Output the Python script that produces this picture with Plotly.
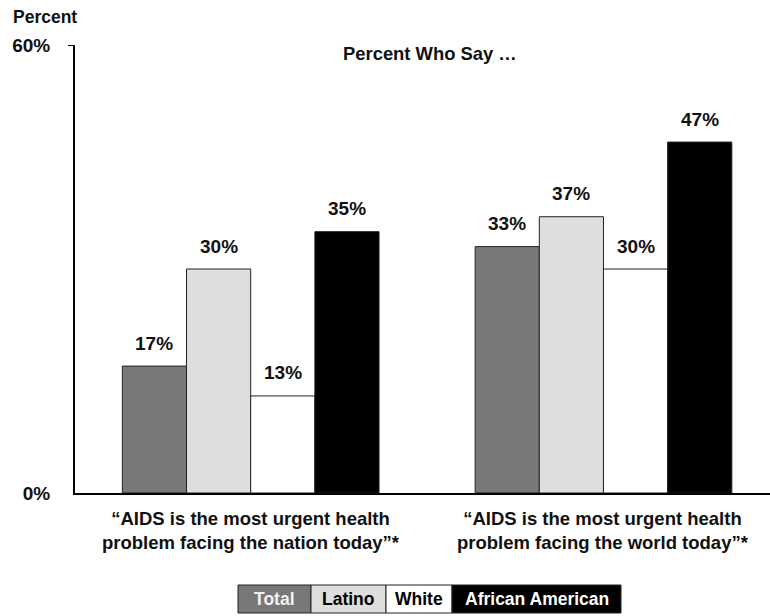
import plotly.graph_objects as go

# Survey data: share who say AIDS is the most urgent health problem
categories = [
    "“AIDS is the most urgent health<br>problem facing the nation today”*",
    "“AIDS is the most urgent health<br>problem facing the world today”*",
]
groups = ["Total", "Latino", "White", "African American"]
values = {
    "Total": [17, 33],
    "Latino": [30, 37],
    "White": [13, 30],
    "African American": [35, 47],
}
colors = {
    "Total": "#787878",
    "Latino": "#dedede",
    "White": "#ffffff",
    "African American": "#000000",
}
text_colors = {
    "Total": "#f2f2f2",
    "Latino": "#000000",
    "White": "#000000",
    "African American": "#ffffff",
}
y_ticks = [0, 60]
y_ticktext = ["0%", "60%"]

FONT = "Liberation Sans, Arial, sans-serif"
INK = "#111111"
W, H = 770, 616
L, R, T, B = 75, 0, 45, 123
BARGAP = 0.2724

x_pos = list(range(len(categories)))

fig = go.Figure()
for g in groups:
    fig.add_trace(go.Bar(
        x=x_pos, y=values[g], name=g,
        marker=dict(color=colors[g], line=dict(color="#222222", width=1)),
        showlegend=False,
    ))

# Value labels above each bar, placed at the grouped-bar offsets
n = len(groups)
bw = (1 - BARGAP) / n
annotations = []
for i, g in enumerate(groups):
    off = -(1 - BARGAP) / 2 + (i + 0.5) * bw
    for xi, v in zip(x_pos, values[g]):
        annotations.append(dict(
            x=xi + off, y=v, xref="x", yref="y",
            text=f"<b>{v}%</b>", showarrow=False,
            yanchor="middle", yshift=23,
            font=dict(family=FONT, size=19, color=INK),
        ))

pw, ph = W - L - R, H - T - B

def px_x(p):
    return (p - L) / pw

def px_y(p):
    return (H - B - p) / ph

annotations.append(dict(
    x=px_x(11), y=px_y(17), xref="paper", yref="paper",
    text="<b>Percent</b>", showarrow=False, xanchor="left", yanchor="middle",
    font=dict(family=FONT, size=17.5, color=INK),
))
annotations.append(dict(
    x=px_x(430), y=px_y(54), xref="paper", yref="paper",
    text="<b>Percent Who Say …</b>", showarrow=False, xanchor="center", yanchor="middle",
    font=dict(family=FONT, size=18.4, color=INK),
))

# Category captions under each group of bars
for xi, c in zip(x_pos, categories):
    annotations.append(dict(
        x=xi, y=0, xref="x", yref="y",
        text=f"<b>{c}</b>", showarrow=False, xanchor="center", yanchor="top",
        yshift=-13, align="center",
        font=dict(family=FONT, size=18.5, color=INK),
    ))

# Boxed key along the bottom
shapes = []
key_edges = [238, 311, 386, 452, 621]
for i, g in enumerate(groups):
    x0, x1 = key_edges[i], key_edges[i + 1]
    shapes.append(dict(
        type="rect", xref="paper", yref="paper",
        x0=px_x(x0), x1=px_x(x1), y0=px_y(613), y1=px_y(585),
        fillcolor=colors[g], line=dict(color="#222222", width=1),
    ))
    annotations.append(dict(
        x=px_x((x0 + x1) / 2), y=px_y(599), xref="paper", yref="paper",
        text=f"<b>{g}</b>", showarrow=False, xanchor="center", yanchor="middle",
        font=dict(family=FONT, size=17.5, color=text_colors[g]),
    ))

# Single tick mark at the top of the value axis
shapes.append(dict(
    type="line", xref="paper", yref="y",
    x0=px_x(68), x1=0, y0=60, y1=60,
    line=dict(color="#000000", width=2),
))

fig.update_layout(
    width=W, height=H,
    margin=dict(l=L, r=R, t=T, b=B),
    paper_bgcolor="white", plot_bgcolor="white",
    barmode="group", bargap=BARGAP, bargroupgap=0,
    annotations=annotations, shapes=shapes,
    font=dict(family=FONT, size=18, color=INK),
)
fig.update_xaxes(
    range=[-0.498, 1.472], tickvals=x_pos, showticklabels=False,
    showline=True, linecolor="#000000", linewidth=2,
    ticks="", showgrid=False, zeroline=False,
)
fig.update_yaxes(
    range=[0, 60], tickvals=y_ticks,
    ticktext=[f"<b>{t}</b>" for t in y_ticktext],
    showline=True, linecolor="#000000", linewidth=2,
    ticks="", ticklabelstandoff=19, showgrid=False, zeroline=False,
    tickfont=dict(family=FONT, size=19, color=INK),
)

fig.write_html("out.html")
